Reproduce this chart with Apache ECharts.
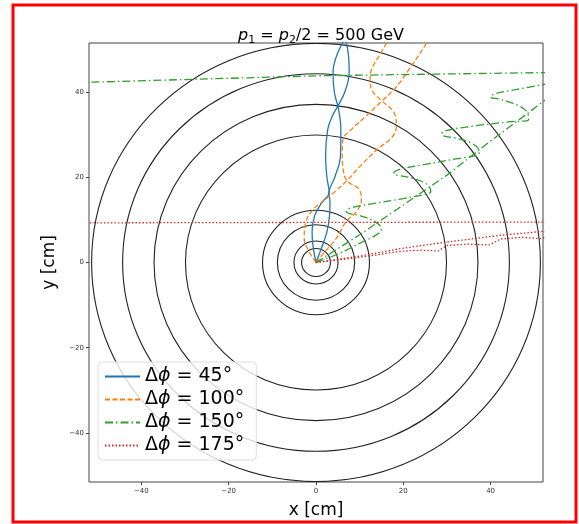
<!DOCTYPE html>
<html><head><meta charset="utf-8">
<script src="https://cdn.jsdelivr.net/npm/echarts/dist/echarts.min.js"></script>
<style>html,body{margin:0;padding:0;background:#fff}#c{width:579px;height:524px}</style>
</head><body><div id="c"></div><script>
const xTicks=[-40,-20,0,20,40];
const yTicks=[-40,-20,0,20,40];
const detectorRadii=[3.3,5.05,8.85,12.25,29.9,37.1,44.3,51.4];
const labels=['Δϕ = 45°','Δϕ = 100°','Δϕ = 150°','Δϕ = 175°'];
const blueA=[[0,0],[-0.7,4],[-0.9,7.2],[-0.3,11],[1.3,14],[3,16.4],[2.5,20],[2.2,25],[2.7,31.3],[3.8,34.5],[5,36.7],[6.6,40],[7.6,44.6],[7.4,49],[6.6,53]];
const blueB=[[0,0],[1.3,3.5],[2.5,7.2],[3.1,11],[3.2,14],[3,16.4],[4.3,20],[5.6,25],[5.7,31.3],[5.4,34.5],[5,36.7],[4.2,40],[3.9,44.6],[4.9,49],[7,53]];
const orangeA=[[0,0],[2,2.5],[4.6,5.6],[6.9,9.6],[9.2,11.9],[10.4,14.5],[10,17],[7.1,19.2],[6.2,22],[6,26],[6.2,29],[8.2,31.3],[11.4,34.3],[15.1,37.9],[18.3,41.1],[21.3,45.3],[25.4,51.6],[26,53]];
const orangeB=[[0,0],[-1.6,2.6],[-2.7,5.6],[-2.3,9.6],[-0.5,12.6],[1.8,14.5],[4.5,16.8],[7.1,19.2],[10,22.5],[14,26.5],[17.5,29.5],[18.4,32],[17.8,35.3],[15.1,37.9],[12.8,40.5],[12.4,43],[12.8,45.5],[14.5,48.5],[16.2,51.6],[17,53]];
const greenA=[[0,0],[5,2],[10,4.5],[14,6.6],[15,7.8],[13.5,9.6],[10,11],[7.5,11.5],[6.9,12],[8,12.8],[13,13.8],[20,15],[25,16],[26.3,16.6],[25.5,18.3],[22,19.8],[19,20.4],[17.8,20.9],[19,21.8],[25,23],[32,24.3],[37,25.2],[37.4,26],[36,27.8],[32,29.2],[29.2,29.7],[28.8,30.2],[30,31],[36,32],[44,33],[48.7,33.5],[48.5,35],[46,37],[42,38.3],[40,38.8],[41,39.6],[46,40.6],[55,42.3]];
const greenB=[[0,0],[10,6.5],[20,13.5],[30,20.5],[40,28.5],[53,38.5]];
const greenC=[[-55,42.2],[0,43.8],[55,44.6]];
const redA=[[0,0],[10,1.5],[19,3.2],[30,4.8],[42.3,6.4],[53,7.4]];
const redB=[[0,0],[10,1.2],[19,2.6],[24,2.9],[28,2.7],[30,4.0],[35,4.3],[39.6,4.1],[42.3,5.5],[47,5.9],[51.5,5.6],[53,6.0]];
const redC=[[-55,9.3],[55,9.5]];

const colors=['#1f77b4','#ff7f0e','#2ca02c','#d62728'];
const dashes=['solid',[5,2.5],[8,3,1.5,3],[1.5,2]];
function line(name,data,i,smooth){
  return {type:'line',name:name,data:data,showSymbol:false,symbol:'none',clip:true,z:3,smooth:smooth||false,
    lineStyle:{color:colors[i],width:1.3,type:dashes[i]},itemStyle:{color:colors[i]},animation:false};
}
const chart=echarts.init(document.getElementById('c'),null,{renderer:'canvas'});
const fmt=v=>String(v).replace('-','−');
const tf={fontFamily:'DejaVu Sans',color:'#000',fontWeight:'normal',lineHeight:20};
chart.setOption({
  animation:false,
  title:{text:'{i|p}{s|1}{n| = }{i|p}{s|2}{n|/2 = 500 GeV}',left:316,top:21,textAlign:'center',
    textStyle:{fontWeight:'normal',rich:{
      i:Object.assign({},tf,{fontStyle:'italic',fontSize:16,verticalAlign:'middle'}),
      s:Object.assign({},tf,{fontSize:11,verticalAlign:'bottom'}),
      n:Object.assign({},tf,{fontSize:16,verticalAlign:'middle'})}}},
  grid:{left:89,top:43,width:454,height:441,show:true,borderColor:'#444',borderWidth:1,backgroundColor:'transparent'},
  xAxis:{type:'value',min:-52,max:52,splitLine:{show:false},axisLine:{show:false,onZero:false},
    axisTick:{show:true,customValues:xTicks,length:3,lineStyle:{color:'#444'}},
    axisLabel:{customValues:xTicks,formatter:fmt,fontSize:7,color:'#333',fontFamily:'DejaVu Sans',margin:6},
    name:'x [cm]',nameLocation:'middle',nameGap:20,nameTextStyle:{fontSize:17,fontFamily:'DejaVu Sans',color:'#000'}},
  yAxis:{type:'value',min:-51.5,max:51.5,splitLine:{show:false},axisLine:{show:false,onZero:false},
    axisTick:{show:true,customValues:yTicks,length:3,lineStyle:{color:'#444'}},
    axisLabel:{customValues:yTicks,formatter:fmt,fontSize:7,color:'#333',fontFamily:'DejaVu Sans',margin:5},
    name:'y [cm]',nameLocation:'middle',nameGap:12,nameTextStyle:{fontSize:17,fontFamily:'DejaVu Sans',color:'#000'}},
  legend:{data:labels,orient:'vertical',left:98,top:362,itemWidth:35,itemHeight:14,itemGap:4,
    padding:[5,12,5,6],backgroundColor:'rgba(255,255,255,0.8)',borderColor:'#ddd',borderWidth:1,borderRadius:4,
    itemStyle:{opacity:0},
    formatter:n=>'{d|Δ}{p|ϕ}{d|'+n.slice(2)+'}',
    textStyle:{rich:{d:{fontFamily:'DejaVu Sans',fontSize:19,color:'#000'},p:{fontFamily:'DejaVu Sans',fontStyle:'italic',fontSize:19,color:'#000'}}}},
  graphic:[{type:'rect',shape:{x:13,y:5,width:563,height:517},style:{fill:null,stroke:'#ff0000',lineWidth:3},z:100}],
  series:[
    {type:'custom',coordinateSystem:'cartesian2d',data:detectorRadii.map(r=>[r,0]),silent:true,clip:true,z:1,
     renderItem:function(params,api){
       const r=api.value(0);const c=api.coord([0,0]);const s=api.size([r,r]);
       return {type:'ellipse',shape:{cx:c[0],cy:c[1],rx:s[0],ry:s[1]},style:{fill:null,stroke:'#222',lineWidth:1.1}};
     }},
    line(labels[0],blueA,0,0.4),line(labels[0],blueB,0,0.4),
    line(labels[1],orangeA,1,0.4),line(labels[1],orangeB,1,0.4),
    line(labels[2],greenA,2,0.4),line(labels[2],greenB,2),line(labels[2],greenC,2),
    line(labels[3],redA,3),line(labels[3],redB,3),line(labels[3],redC,3)
  ]
});
</script></body></html>
